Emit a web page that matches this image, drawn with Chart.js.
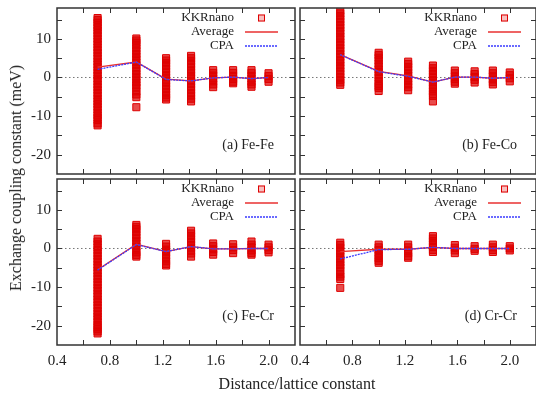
<!DOCTYPE html>
<html>
<head>
<meta charset="utf-8">
<script src="https://cdn.jsdelivr.net/npm/chart.js@4.4.0/dist/chart.umd.min.js"></script>
<style>
    html, body { margin: 0; padding: 0; background: #fff; overflow: hidden; }
    #wrap { position: relative; width: 536px; height: 398px; overflow: hidden; }
    #wrap canvas { position: absolute; left: 0; top: 0; }
    .axis-title {
        position: absolute;
        font-family: 'Liberation Serif', 'Times New Roman', serif;
        font-size: 16px;
        color: #222;
        white-space: nowrap;
        transform: translate(-50%, -50%);
    }
</style>
</head>
<body>
<div id="wrap">
    <canvas id="panelA" width="536" height="398"></canvas>
    <canvas id="panelB" width="536" height="398"></canvas>
    <canvas id="panelC" width="536" height="398"></canvas>
    <canvas id="panelD" width="536" height="398"></canvas>
    <div class="axis-title" style="left:16px; top:178px; transform: translate(-50%, -50%) rotate(-90deg);">Exchange coupling constant (meV)</div>
    <div class="axis-title" style="left:297px; top:384px;">Distance/lattice constant</div>
</div>
<script>
// расстояния между соседями (в единицах постоянной решётки)
const distances = [0.707, 1.0, 1.225, 1.414, 1.581, 1.732, 1.871, 2.0];
const xTickLabels = [0.4, 0.8, 1.2, 1.6, 2.0];
const yTickLabels = [-20, -10, 0, 10];

// (a) Fe-Fe
const feFeKkr = [
    [15.4, 14.9, 14.2, 13.5, 12.9, 12.2, 11.5, 10.8, 10.0, 9.3, 8.6, 7.8, 7.1, 6.4, 5.6, 4.9, 4.1, 3.4, 2.7, 1.9, 1.2, 0.5, -0.3, -1.0, -1.8, -2.5, -3.2, -4.0, -4.7, -5.5, -6.2, -6.9, -7.6, -8.3, -9.1, -9.8, -10.4, -11.0, -11.9, -12.4],
    [10.1, 9.6, 9.0, 8.3, 7.6, 6.9, 6.1, 5.4, 4.7, 3.9, 3.2, 2.4, 1.7, 0.9, 0.2, -0.5, -1.3, -2.0, -2.6, -3.6, -4.4, -5.1, -7.7],
    [5.0, 4.4, 3.7, 3.0, 2.2, 1.5, 0.7, 0.0, -0.8, -1.5, -2.3, -3.0, -3.8, -4.5, -5.2, -5.7],
    [5.6, 5.0, 4.3, 3.5, 2.8, 2.0, 1.3, 0.5, -0.2, -1.0, -1.7, -2.5, -3.2, -4.0, -4.7, -5.5, -6.2],
    [1.9, 1.2, 0.5, -0.3, -1.0, -1.8, -2.5],
    [1.9, 1.2, 0.4, -0.4, -1.1, -1.5],
    [1.9, 1.2, 0.4, -0.3, -1.1, -1.8, -2.4],
    [1.1, 0.4, -0.4, -1.1]
];
const feFeAverage = [2.7, 4.0, -0.4, -0.9, -0.1, 0.1, -0.3, 0.0];
const feFeCpa = [2.1, 4.0, -0.5, -0.9, -0.1, 0.1, -0.3, 0.0];

// (b) Fe-Co
const feCoKkr = [
    [17.3, 16.6, 15.9, 15.1, 14.4, 13.6, 12.9, 12.1, 11.4, 10.6, 9.9, 9.1, 8.4, 7.6, 6.9, 6.1, 5.4, 4.6, 3.9, 3.1, 2.4, 1.6, 0.9, 0.1, -0.6, -1.3, -1.9],
    [6.4, 5.8, 5.1, 4.4, 3.6, 2.9, 2.1, 1.4, 0.6, -0.1, -0.9, -1.6, -2.2, -2.7, -3.5],
    [4.1, 3.5, 2.7, 2.0, 1.2, 0.5, -0.3, -1.0, -1.8, -2.5, -3.3],
    [3.1, 2.4, 1.7, 0.9, 0.2, -0.6, -1.3, -2.1, -2.8, -3.6, -4.3, -4.8, -6.2],
    [1.8, 1.1, 0.3, -0.4, -1.1, -1.6],
    [1.6, 0.9, 0.1, -0.6, -1.3],
    [1.8, 1.1, 0.3, -0.5, -1.2, -1.8],
    [1.3, 0.6, -0.2, -1.0]
];
const feCoAverage = [5.9, 1.6, 0.4, -1.2, 0.1, 0.1, -0.2, 0.0];
const feCoCpa = [5.9, 1.5, 0.3, -1.2, 0.1, 0.1, -0.2, 0.0];

// (c) Fe-Cr
const feCrKkr = [
    [2.5, 1.8, 1.1, 0.3, -0.4, -1.2, -1.9, -2.7, -3.4, -4.2, -4.9, -5.7, -6.4, -7.2, -7.9, -8.7, -9.4, -10.2, -10.9, -11.7, -12.4, -13.2, -13.9, -14.7, -15.4, -16.2, -16.9, -17.6, -18.3, -19.0, -19.8, -20.3, -20.9, -21.5, -22.0],
    [6.1, 5.6, 5.0, 4.3, 3.5, 2.8, 2.0, 1.3, 0.5, -0.2, -1.0, -1.7, -2.1],
    [1.2, 0.5, -0.3, -1.0, -1.8, -2.5, -3.3, -4.0, -4.4],
    [4.6, 3.9, 3.2, 2.4, 1.7, 0.9, 0.2, -0.6, -1.3, -2.1],
    [1.3, 0.6, -0.2, -0.9, -1.6],
    [1.1, 0.3, -0.4, -1.2],
    [1.8, 1.0, 0.3, -0.5, -1.2, -1.6],
    [1.0, 0.3, -0.4, -1.0]
];
const feCrAverage = [-5.5, 1.1, -0.8, 0.5, -0.1, -0.1, 0.0, 0.0];
const feCrCpa = [-5.6, 1.0, -0.8, 0.5, -0.1, -0.1, 0.0, 0.0];

// (d) Cr-Cr
const crCrKkr = [
    [1.5, 0.9, 0.2, -0.6, -1.3, -2.1, -2.8, -3.6, -4.3, -4.9, -5.8, -6.7, -7.3, -7.9, -10.2],
    [1.0, 0.3, -0.4, -1.2, -1.8, -2.5, -3.2, -3.7],
    [1.0, 0.3, -0.5, -1.2, -2.0, -2.4],
    [3.2, 2.6, 1.9, 1.1, 0.4, -0.4, -0.9],
    [0.9, 0.2, -0.5, -1.2],
    [0.6, -0.1, -0.6],
    [1.0, 0.3, -0.4, -0.9],
    [0.6, 0.0, -0.5]
];
const crCrAverage = [-0.8, -0.2, -0.2, 0.3, 0.0, 0.0, 0.0, 0.0];
const crCrCpa = [-2.7, -0.3, -0.2, 0.3, 0.0, 0.0, 0.0, 0.0];

const serif = "'Liberation Serif', 'Times New Roman', serif";
const redSquare = 'rgb(222, 0, 0)';
const redLine = '#e83030';
const blueLine = '#3a3aff';

const near = (a, b) => Math.abs(a - b) < 1e-6;

// рамка, внутренние засечки, легенда и подпись панели (как в gnuplot)
const panelDecor = {
    id: 'panelDecor',
    afterDraw(chart, args, opts) {
        const {ctx, chartArea: a, scales: {x, y}} = chart;
        ctx.save();

        ctx.strokeStyle = '#333';
        ctx.lineWidth = 1;
        ctx.beginPath();
        x.ticks.forEach(t => {
            if (near(t.value, x.min) || near(t.value, x.max)) return;
            const px = Math.round(x.getPixelForValue(t.value)) + 0.5;
            ctx.moveTo(px, a.bottom); ctx.lineTo(px, a.bottom - 5);
            ctx.moveTo(px, a.top); ctx.lineTo(px, a.top + 5);
        });
        y.ticks.forEach(t => {
            if (near(t.value, y.min) || near(t.value, y.max)) return;
            const py = Math.round(y.getPixelForValue(t.value)) + 0.5;
            ctx.moveTo(a.left, py); ctx.lineTo(a.left + 5, py);
            ctx.moveTo(a.right, py); ctx.lineTo(a.right - 5, py);
        });
        ctx.stroke();

        ctx.lineWidth = 1.5;
        ctx.strokeRect(a.left, a.top, a.right - a.left, a.bottom - a.top);

        // легенда
        ctx.font = '13px ' + serif;
        ctx.fillStyle = '#222';
        ctx.textAlign = 'right';
        ctx.textBaseline = 'middle';
        const tx = a.left + 177;
        const rows = [a.top + 10, a.top + 24, a.top + 38];
        ctx.fillText('KKRnano', tx, rows[0]);
        ctx.fillText('Average', tx, rows[1]);
        ctx.fillText('CPA', tx, rows[2]);

        ctx.lineWidth = 1;
        ctx.strokeStyle = redSquare;
        ctx.fillStyle = 'rgba(222, 0, 0, 0.25)';
        ctx.fillRect(a.left + 201, rows[0] - 3.5, 7, 7);
        ctx.strokeRect(a.left + 201.5, rows[0] - 3, 6, 6);

        ctx.lineWidth = 1.5;
        ctx.strokeStyle = redLine;
        ctx.beginPath();
        ctx.moveTo(a.left + 188, rows[1]); ctx.lineTo(a.left + 221, rows[1]);
        ctx.stroke();

        ctx.strokeStyle = blueLine;
        ctx.setLineDash([2, 1]);
        ctx.beginPath();
        ctx.moveTo(a.left + 188, rows[2]); ctx.lineTo(a.left + 221, rows[2]);
        ctx.stroke();
        ctx.setLineDash([]);

        // подпись панели
        ctx.font = '14px ' + serif;
        ctx.fillStyle = '#222';
        ctx.fillText(opts.label, a.left + 217, a.top + 137);

        ctx.restore();
    }
};

function makePanel(canvasId, box, label, kkr, average, cpa, showX, showY) {
    const points = kkr.flatMap((vals, i) => vals.map(v => ({x: distances[i], y: v})));
    const ctx = document.getElementById(canvasId).getContext('2d');
    const yWidth = showY ? box.left : 0;
    const xHeight = showX ? 398 - box.bottom : 0;
    return new Chart(ctx, {
        type: 'scatter',
        data: {
            datasets: [
                {
                    label: 'CPA',
                    data: distances.map((d, i) => ({x: d, y: cpa[i]})),
                    showLine: true,
                    borderColor: blueLine,
                    borderWidth: 1.3,
                    borderDash: [2, 1],
                    pointRadius: 0,
                    order: 1
                },
                {
                    label: 'Average',
                    data: distances.map((d, i) => ({x: d, y: average[i]})),
                    showLine: true,
                    borderColor: redLine,
                    borderWidth: 1.3,
                    pointRadius: 0,
                    order: 2
                },
                {
                    label: 'KKRnano',
                    data: points,
                    pointStyle: 'rect',
                    pointRadius: 5,
                    borderWidth: 1,
                    borderColor: redSquare,
                    backgroundColor: 'rgba(222, 0, 0, 0.7)',
                    order: 3
                },
                {
                    label: 'zero',
                    data: [{x: 0.4, y: 0}, {x: 2.2, y: 0}],
                    showLine: true,
                    borderColor: '#777',
                    borderWidth: 1,
                    borderDash: [1.5, 2.5],
                    pointRadius: 0,
                    order: 4
                }
            ]
        },
        options: {
            responsive: false,
            animation: false,
            layout: {
                autoPadding: false,
                padding: {
                    left: box.left - yWidth,
                    top: box.top,
                    right: 536 - box.right,
                    bottom: 398 - box.bottom - xHeight
                }
            },
            scales: {
                x: {
                    type: 'linear',
                    min: 0.4,
                    max: 2.2,
                    afterFit: s => {
                        s.height = xHeight;
                        s.paddingLeft = s.paddingRight = s.paddingTop = s.paddingBottom = 0;
                    },
                    grid: { display: false, drawTicks: false },
                    border: { display: false },
                    ticks: {
                        display: showX,
                        stepSize: 0.2,
                        includeBounds: false,
                        padding: 7,
                        maxRotation: 0,
                        autoSkip: false,
                        color: '#222',
                        font: { family: serif, size: 15 },
                        callback: v => xTickLabels.some(t => near(t, v)) ? v.toFixed(1) : ''
                    }
                },
                y: {
                    min: -25,
                    max: 18,
                    afterFit: s => {
                        s.width = yWidth;
                        s.paddingLeft = s.paddingRight = s.paddingTop = s.paddingBottom = 0;
                    },
                    grid: { display: false, drawTicks: false },
                    border: { display: false },
                    ticks: {
                        display: showY,
                        stepSize: 5,
                        includeBounds: false,
                        padding: 6,
                        autoSkip: false,
                        color: '#222',
                        font: { family: serif, size: 15 },
                        callback: v => yTickLabels.some(t => near(t, v)) ? String(v) : ''
                    }
                }
            },
            plugins: {
                legend: { display: false },
                tooltip: { enabled: false },
                panelDecor: { label: label }
            }
        },
        plugins: [panelDecor]
    });
}

makePanel('panelA', {left: 57, right: 295, top: 8, bottom: 174}, '(a) Fe-Fe', feFeKkr, feFeAverage, feFeCpa, false, true);
makePanel('panelB', {left: 300, right: 537, top: 8, bottom: 174}, '(b) Fe-Co', feCoKkr, feCoAverage, feCoCpa, false, false);
makePanel('panelC', {left: 57, right: 295, top: 179, bottom: 345}, '(c) Fe-Cr', feCrKkr, feCrAverage, feCrCpa, true, true);
makePanel('panelD', {left: 300, right: 537, top: 179, bottom: 345}, '(d) Cr-Cr', crCrKkr, crCrAverage, crCrCpa, true, false);
</script>
</body>
</html>
